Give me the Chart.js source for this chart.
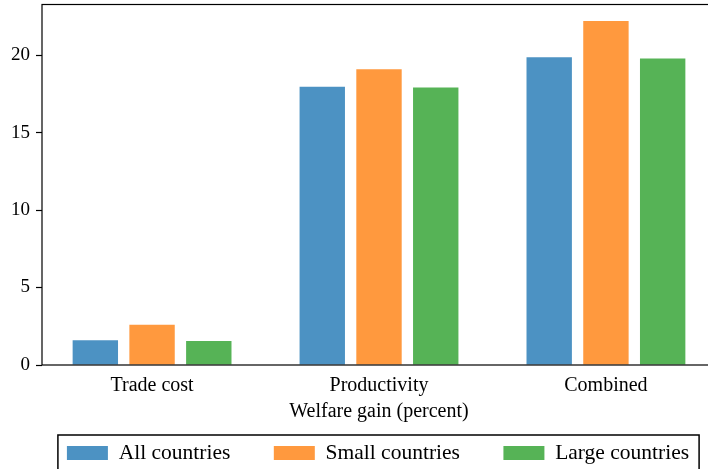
<!DOCTYPE html>
<html>
<head>
<meta charset="utf-8">
<script src="https://cdn.jsdelivr.net/npm/chart.js@4/dist/chart.umd.min.js"></script>
<style>
  html, body { margin: 0; padding: 0; background: #fff; overflow: hidden; }
  #wrap { width: 718px; height: 510px; }
</style>
</head>
<body>
<div id="wrap"><canvas id="welfareChart" width="718" height="510"></canvas></div>
<script>
// categories along the x axis
const categories = ['Trade cost', 'Productivity', 'Combined'];
// welfare gain (percent) per group
const allCountries = [1.59, 17.95, 19.85];
const smallCountries = [2.6, 19.08, 22.19];
const largeCountries = [1.55, 17.9, 19.78];
const yTicks = [0, 5, 10, 15, 20];

const serif = "'Liberation Serif', 'Times New Roman', serif";
const LEGEND_PAD = 43.5;
const LEGEND_FONT = 21.5;
const LEGEND_DX = 20;

const toPoints = vals => vals.map((v, i) => ({ x: i, y: v }));

// matplotlib-ish frame around the plot and the legend
const framePlugin = {
    id: 'frame',
    afterUpdate(chart) {
        // pull the legend row up (padding only wanted sideways) and a bit right
        const lg = chart.legend;
        const shift = LEGEND_PAD - 7.25;
        lg._frameTop = lg.top;
        lg.top -= shift;
        lg.bottom -= shift;
        lg.left += LEGEND_DX;
        lg.right += LEGEND_DX;
    },
    afterDraw(chart) {
        const ctx = chart.ctx;
        const a = chart.chartArea;
        ctx.save();
        ctx.strokeStyle = '#000';
        ctx.lineWidth = 1.2;
        ctx.strokeRect(a.left, a.top, a.right - a.left, a.bottom - a.top);

        const lg = chart.legend;
        if (lg && lg.legendHitBoxes.length) {
            const boxes = lg.legendHitBoxes;
            const l = boxes[0].left - 9 + LEGEND_DX;
            const last = boxes[boxes.length - 1];
            const r = last.left + last.width + 10 + LEGEND_DX;
            ctx.lineWidth = 1.5;
            ctx.strokeRect(l, lg._frameTop, r - l, 80);
        }
        ctx.restore();
    }
};

const ctx = document.getElementById('welfareChart');
new Chart(ctx, {
    type: 'bar',
    data: {
        datasets: [
            { label: 'All countries', data: toPoints(allCountries), backgroundColor: '#4c92c3' },
            { label: 'Small countries', data: toPoints(smallCountries), backgroundColor: '#ff993e' },
            { label: 'Large countries', data: toPoints(largeCountries), backgroundColor: '#56b356' }
        ]
    },
    options: {
        responsive: false,
        animation: false,
        layout: { padding: { top: 4.5, right: 2, left: 0, bottom: 0 } },
        datasets: {
            bar: { categoryPercentage: 0.75, barPercentage: 0.8 }
        },
        scales: {
            x: {
                type: 'linear',
                offset: false,
                min: -0.485,
                max: 2.485,
                afterBuildTicks: s => { s.ticks = categories.map((c, i) => ({ value: i })); },
                afterFit: s => { s.height = 70; s.paddingLeft = 0; s.paddingRight = 0; },
                grid: { display: false, drawTicks: false, offset: false },
                border: { display: false },
                ticks: {
                    padding: 9,
                    color: '#000',
                    font: { family: serif, size: 20 },
                    maxRotation: 0,
                    autoSkip: false,
                    callback: v => categories[v]
                },
                title: {
                    display: true,
                    text: 'Welfare gain (percent)',
                    color: '#000',
                    font: { family: serif, size: 20 },
                    padding: { top: 0, bottom: 11 }
                }
            },
            y: {
                min: 0,
                max: 23.26,
                afterBuildTicks: s => { s.ticks = yTicks.map(v => ({ value: v })); },
                afterFit: s => { s.width = 42; s.paddingTop = 0; s.paddingBottom = 0; },
                grid: { drawOnChartArea: false, tickLength: 6, color: '#000', tickWidth: 1.2 },
                border: { display: false },
                ticks: {
                    padding: 6,
                    color: '#000',
                    font: { family: serif, size: 19 }
                }
            }
        },
        plugins: {
            legend: {
                position: 'bottom',
                labels: {
                    boxWidth: 41,
                    boxHeight: 14,
                    padding: LEGEND_PAD,
                    color: '#000',
                    font: { family: serif, size: LEGEND_FONT }
                }
            },
            tooltip: { enabled: false }
        }
    },
    plugins: [framePlugin]
});
</script>
</body>
</html>
